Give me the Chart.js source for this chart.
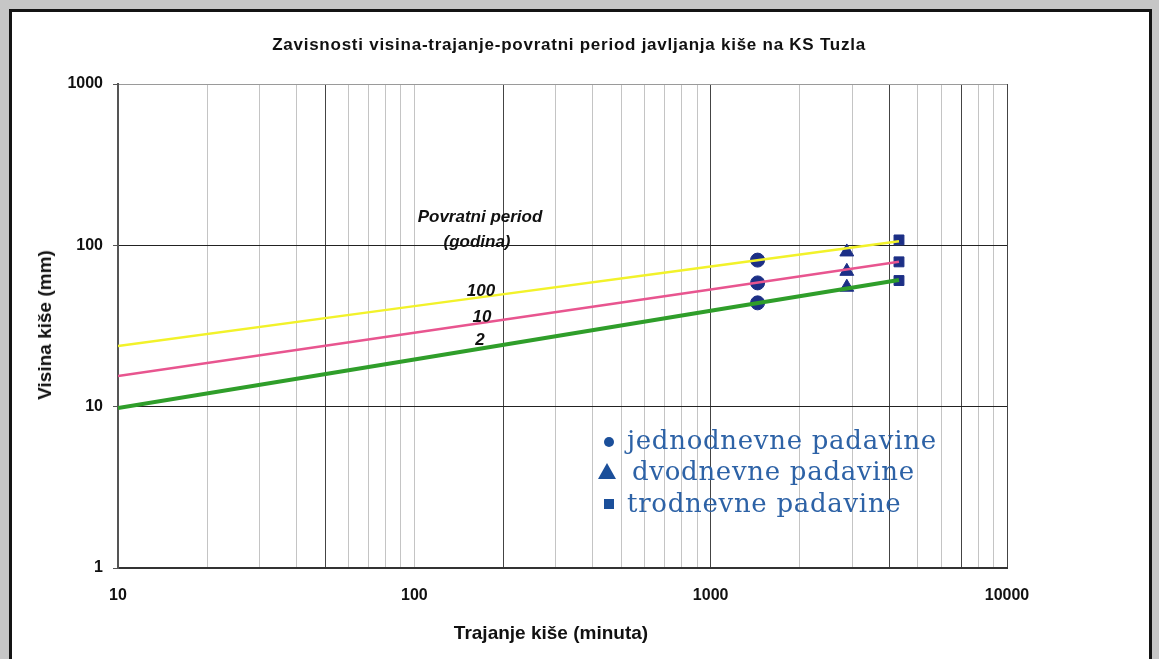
<!DOCTYPE html>
<html>
<head>
<meta charset="utf-8">
<script src="https://cdn.jsdelivr.net/npm/chart.js@4.4.1/dist/chart.umd.min.js"></script>
<style>
  body { margin: 0; background: #c6c6c6; }
  #wrap { position: relative; width: 1159px; height: 659px; overflow: hidden; }
  #panel { position: absolute; left: 9px; top: 9px; width: 1137px; height: 660px; background: #fff; border: 3px solid #141414; }
  #chart { position: absolute; left: 0; top: 0; }
  .txt { position: absolute; transform: translate(-50%, -50%); font: bold 17px "Liberation Sans", Arial, sans-serif; color: #111; white-space: nowrap; }
  .note { position: absolute; transform: translate(-50%, -50%); font: italic bold 17px "Liberation Sans", Arial, sans-serif; color: #111; white-space: nowrap; }
  .leg { position: absolute; left: 627px; font: 26px "DejaVu Serif", serif; letter-spacing: 0.7px; color: #2d62a6; white-space: nowrap; transform: translateY(-50%); }
  .mk { position: absolute; background: #1b4f9a; }
</style>
</head>
<body>
<div id="wrap">
  <div id="panel"></div>
  <canvas id="chart" width="1159" height="659"></canvas>
  <div class="txt" style="left:569px; top:45px; letter-spacing:0.75px">Zavisnosti visina-trajanje-povratni period javljanja kiše na KS Tuzla</div>
  <div class="txt" style="left:551px; top:633px; font-size:19px">Trajanje kiše (minuta)</div>
  <div class="txt" style="left:45px; top:325px; font-size:19px; transform:translate(-50%, -50%) rotate(-90deg)">Visina kiše (mm)</div>

  <div class="note" style="left:480px; top:217px">Povratni period</div>
  <div class="note" style="left:477px; top:242px">(godina)</div>
  <div class="note" style="left:481px; top:291px">100</div>
  <div class="note" style="left:482px; top:317px">10</div>
  <div class="note" style="left:480px; top:340px">2</div>

  <div class="mk" style="left:604px; top:437px; width:10px; height:10px; border-radius:50%"></div>
  <div class="leg" style="top:440px">jednodnevne padavine</div>
  <div style="position:absolute; left:598px; top:463px; width:0; height:0; border-left:9px solid transparent; border-right:9px solid transparent; border-bottom:16px solid #1b4f9a"></div>
  <div class="leg" style="top:471px; left:632px">dvodnevne padavine</div>
  <div class="mk" style="left:604px; top:499px; width:10px; height:10px"></div>
  <div class="leg" style="top:503px">trodnevne padavine</div>
</div>
<script>
// trajanje kise (minuta) i visina kise (mm)
const lineDurations = [10, 100, 1000, 4320];
const period2 = [9.8, 19.6, 39.3, 61];
const period10 = [15.5, 28.7, 53.3, 79];
const period100 = [23.8, 42, 74, 106];

const oneDayDuration = 1440;
const oneDay = [81, 58.5, 44];
const twoDayDuration = 2880;
const twoDay = [91, 69, 55];
const threeDayDuration = 4320;
const threeDay = [108, 79, 60.5];

const xTicks = [10, 20, 30, 40, 50, 60, 70, 80, 90,
  100, 200, 300, 400, 500, 600, 700, 800, 900,
  1000, 2000, 3000, 4000, 5000, 6000, 7000, 8000, 9000, 10000];
const xLabels = [10, 100, 1000, 10000];
const yTicks = [1, 10, 100, 1000];

const darkX = [50, 200, 1000, 4000, 7000, 10000];
const navy = '#1c2f86';

function curve(ys) {
  return lineDurations.map((x, i) => ({ x: x, y: ys[i] }));
}
function column(x, ys) {
  return ys.map(y => ({ x: x, y: y }));
}

new Chart(document.getElementById('chart'), {
  type: 'scatter',
  data: {
    datasets: [
      { data: curve(period100), showLine: true, borderColor: '#f2f22a', borderWidth: 2.5, pointRadius: 0 },
      { data: curve(period10), showLine: true, borderColor: '#e8558f', borderWidth: 2.5, pointRadius: 0 },
      { data: curve(period2), showLine: true, borderColor: '#2f9e2a', borderWidth: 4, pointRadius: 0 },
      { data: column(oneDayDuration, oneDay), pointStyle: 'circle', pointRadius: 7, backgroundColor: navy, borderColor: navy },
      { data: column(twoDayDuration, twoDay), pointStyle: 'triangle', pointRadius: 8, backgroundColor: navy, borderColor: navy },
      { data: column(threeDayDuration, threeDay), pointStyle: 'rect', pointRadius: 7, backgroundColor: navy, borderColor: navy },
    ]
  },
  options: {
    responsive: false,
    animation: false,
    layout: { padding: { left: 0, right: 152, top: 84, bottom: 0 } },
    plugins: {
      legend: { display: false },
      tooltip: { enabled: false },
    },
    scales: {
      x: {
        type: 'logarithmic',
        min: 10,
        max: 10000,
        afterBuildTicks: s => { s.ticks = xTicks.map(v => ({ value: v })); },
        afterFit: s => { s.height = 91; },
        grid: {
          drawTicks: false,
          color: c => darkX.includes(c.tick && c.tick.value) ? '#444' : '#c4c4c4',
        },
        border: { color: '#333', width: 2 },
        ticks: {
          autoSkip: false,
          maxRotation: 0,
          padding: 18,
          color: '#111',
          font: { family: 'Liberation Sans', size: 16, weight: 'bold' },
          callback: v => xLabels.includes(v) ? String(v) : '',
        },
      },
      y: {
        type: 'logarithmic',
        min: 1,
        max: 1000,
        afterBuildTicks: s => { s.ticks = yTicks.map(v => ({ value: v })); },
        afterFit: s => { s.width = 118; },
        grid: {
          tickLength: 5,
          color: c => (c.tick && c.tick.value === 1000) ? '#9a9a9a' : '#222',
          tickColor: '#555',
        },
        border: { color: '#555', width: 2 },
        ticks: {
          padding: 10,
          color: '#111',
          font: { family: 'Liberation Sans', size: 16, weight: 'bold' },
          callback: v => String(v),
        },
      },
    },
  },
});
</script>
</body>
</html>
